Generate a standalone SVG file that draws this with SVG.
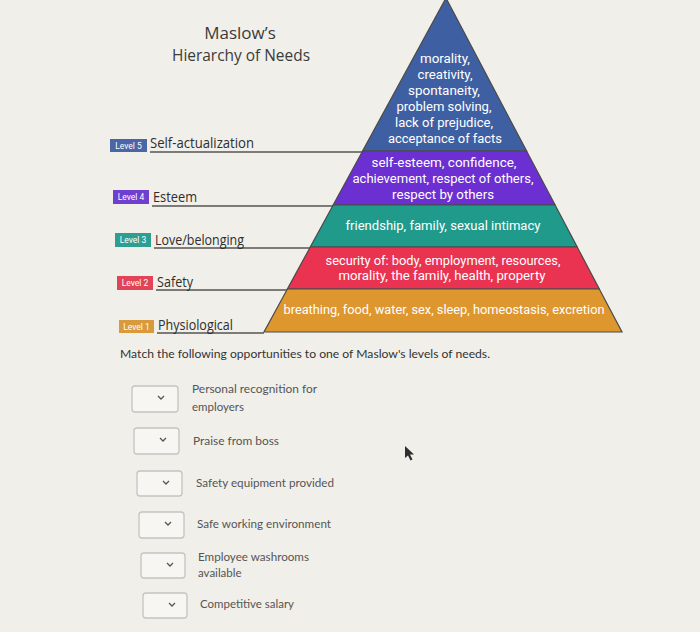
<svg xmlns="http://www.w3.org/2000/svg" width="700" height="632" viewBox="0 0 700 632">
<defs>
<style>
.title{font-family:"Open Sans","Noto Sans",sans-serif;font-size:17px;font-weight:500;fill:#3b3b3b;text-anchor:middle}
.lvl{font-family:"Open Sans","Noto Sans",sans-serif;font-size:14.5px;font-weight:500;fill:#2e2e2e}
.badge{font-family:"Roboto","DejaVu Sans",sans-serif;font-size:8.5px;fill:#fff;text-anchor:middle}
.pt{font-family:"Roboto","DejaVu Sans",sans-serif;font-size:12.5px;fill:#fff;text-anchor:middle}
.uline{stroke:#555;stroke-width:1.6;fill:none}
.band{stroke:#4a4a4a;stroke-width:1.2}
.q{font-family:"Lato","Open Sans",sans-serif;font-size:12px;fill:#333}
.it{font-family:"Lato","Open Sans",sans-serif;font-size:11.5px;fill:#555}
.box{fill:#f7f6f2;stroke:#c4c4c0;stroke-width:1.3}
.chev{fill:none;stroke:#555;stroke-width:1.3}
</style>
</defs>
<rect x="0" y="0" width="700" height="632" fill="#f1efe9"/>
<g id="title">
<text class="title" x="240" y="39">Maslow’s</text>
<text class="title" x="241" y="61" textLength="138" lengthAdjust="spacingAndGlyphs">Hierarchy of Needs</text>
</g>
<g id="connectors">
<line class="uline" x1="150" y1="152" x2="363" y2="152"/>
<line class="uline" x1="152" y1="206" x2="333" y2="206"/>
<line class="uline" x1="154" y1="248" x2="310" y2="248"/>
<line class="uline" x1="156" y1="290" x2="287" y2="290"/>
<line class="uline" x1="157" y1="333" x2="264" y2="333"/>
</g>
<g id="level5">
<polygon class="band" fill="#3f5fa3" points="446,-2 526.6,151 362.6,151"/>
<text class="pt" x="445" y="63" textLength="50" lengthAdjust="spacingAndGlyphs">morality,</text>
<text class="pt" x="445" y="79" textLength="55" lengthAdjust="spacingAndGlyphs">creativity,</text>
<text class="pt" x="444" y="95" textLength="72" lengthAdjust="spacingAndGlyphs">spontaneity,</text>
<text class="pt" x="444" y="111" textLength="95" lengthAdjust="spacingAndGlyphs">problem solving,</text>
<text class="pt" x="444" y="127" textLength="98" lengthAdjust="spacingAndGlyphs">lack of prejudice,</text>
<text class="pt" x="445" y="143" textLength="114" lengthAdjust="spacingAndGlyphs">acceptance of facts</text>
<rect x="110" y="139" width="37" height="13" fill="#4a66a6"/>
<text class="badge" x="128.5" y="149">Level 5</text>
<text class="lvl" x="150" y="148" textLength="104" lengthAdjust="spacingAndGlyphs">Self-actualization</text>
</g>
<g id="level4">
<polygon class="band" fill="#6b2fd2" points="362.6,151 526.6,151 555.1,205 333.2,205"/>
<text class="pt" x="444" y="167" textLength="145" lengthAdjust="spacingAndGlyphs">self-esteem, confidence,</text>
<text class="pt" x="443" y="183" textLength="181" lengthAdjust="spacingAndGlyphs">achievement, respect of others,</text>
<text class="pt" x="443" y="199" textLength="102" lengthAdjust="spacingAndGlyphs">respect by others</text>
<rect x="113" y="190" width="36" height="14" fill="#6f3fcf"/>
<text class="badge" x="131" y="200">Level 4</text>
<text class="lvl" x="153" y="202" textLength="44" lengthAdjust="spacingAndGlyphs">Esteem</text>
</g>
<g id="level3">
<polygon class="band" fill="#1f9a8b" points="333.2,205 555.1,205 577.2,247 310.3,247"/>
<text class="pt" x="443" y="230" textLength="195" lengthAdjust="spacingAndGlyphs">friendship, family, sexual intimacy</text>
<rect x="115" y="233" width="36" height="14" fill="#2f9e92"/>
<text class="badge" x="133" y="243">Level 3</text>
<text class="lvl" x="155" y="245" textLength="89" lengthAdjust="spacingAndGlyphs">Love/belonging</text>
</g>
<g id="level2">
<polygon class="band" fill="#ea3350" points="310.3,247 577.2,247 599.3,289 287.4,289"/>
<text class="pt" x="443" y="265" textLength="235" lengthAdjust="spacingAndGlyphs">security of: body, employment, resources,</text>
<text class="pt" x="442" y="280" textLength="207" lengthAdjust="spacingAndGlyphs">morality, the family, health, property</text>
<rect x="117" y="276" width="36" height="14" fill="#e04456"/>
<text class="badge" x="135" y="286">Level 2</text>
<text class="lvl" x="157" y="287" textLength="36" lengthAdjust="spacingAndGlyphs">Safety</text>
</g>
<g id="level1">
<polygon class="band" fill="#de962f" points="287.4,289 599.3,289 622,332 264,332"/>
<text class="pt" x="444" y="314" textLength="321" lengthAdjust="spacingAndGlyphs">breathing, food, water, sex, sleep, homeostasis, excretion</text>
<rect x="119" y="320" width="35" height="13" fill="#d99a3e"/>
<text class="badge" x="136.5" y="330">Level 1</text>
<text class="lvl" x="158" y="330" textLength="75" lengthAdjust="spacingAndGlyphs">Physiological</text>
</g>
<g id="question">
<text class="q" x="120" y="358" textLength="370" lengthAdjust="spacingAndGlyphs">Match the following opportunities to one of Maslow's levels of needs.</text>
</g>
<g id="item1">
<rect class="box" x="132" y="386" width="46" height="26" rx="3"/>
<polyline class="chev" points="158,396 161,399 164,396"/>
<text class="it" x="192" y="393" textLength="125" lengthAdjust="spacingAndGlyphs">Personal recognition for</text>
<text class="it" x="192" y="411">employers</text>
</g>
<g id="item2">
<rect class="box" x="134" y="428" width="45" height="26" rx="3"/>
<polyline class="chev" points="160,438 163,441 166,438"/>
<text class="it" x="193" y="445" textLength="86" lengthAdjust="spacingAndGlyphs">Praise from boss</text>
</g>
<g id="item3">
<rect class="box" x="137" y="471" width="45" height="25" rx="3"/>
<polyline class="chev" points="163,481 166,484 169,481"/>
<text class="it" x="196" y="487" textLength="138" lengthAdjust="spacingAndGlyphs">Safety equipment provided</text>
</g>
<g id="item4">
<rect class="box" x="139" y="512" width="45" height="26" rx="3"/>
<polyline class="chev" points="165,522 168,525 171,522"/>
<text class="it" x="197" y="528" textLength="134" lengthAdjust="spacingAndGlyphs">Safe working environment</text>
</g>
<g id="item5">
<rect class="box" x="141" y="553" width="44" height="25" rx="3"/>
<polyline class="chev" points="167,563 170,566 173,563"/>
<text class="it" x="198" y="561" textLength="111" lengthAdjust="spacingAndGlyphs">Employee washrooms</text>
<text class="it" x="198" y="577">available</text>
</g>
<g id="item6">
<rect class="box" x="143" y="593" width="44" height="25" rx="3"/>
<polyline class="chev" points="169,603 172,606 175,603"/>
<text class="it" x="200" y="608" textLength="94" lengthAdjust="spacingAndGlyphs">Competitive salary</text>
</g>
<g id="cursor">
<polygon points="405,446 405,458 408,455.5 410.5,460.5 412.5,459.5 410,454.5 414,454.5" fill="#2e2e2e"/>
</g>
</svg>
